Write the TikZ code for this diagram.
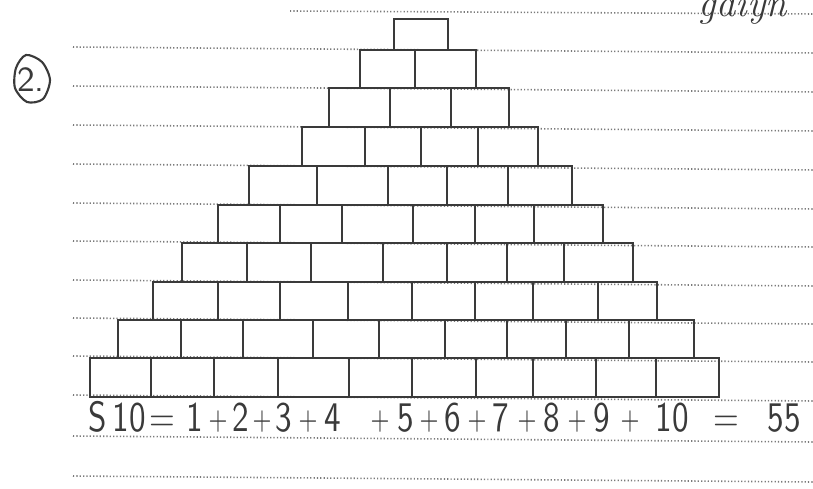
\documentclass[tikz,border=0pt]{standalone}
\usepackage{tikz}
\usetikzlibrary{positioning}
\definecolor{Lapiz}{HTML}{3A3A3A}
\definecolor{Renglon}{HTML}{7A7A7A}

\begin{document}
\begin{tikzpicture}[
  x=0.01cm, y=-0.01cm,
  every node/.style={font=\sffamily},
  brick/.style={line width=0.5pt,draw=Lapiz},
  renglon/.style={line width=0.45pt,Renglon,dash pattern=on 0.35pt off 0.6pt},
  hand/.style={text=Lapiz,font=\sffamily\fontsize{12}{14}\selectfont,inner sep=0pt},
  mas/.style={hand,font=\sffamily\fontsize{9}{11}\selectfont}
]
  \useasboundingbox (0,0) rectangle (813,489);
  \fill[white] (0,0) rectangle (813,489);

  % ruled lines of the page
  \draw[renglon] (290,11) -- (813,14);
  \foreach \y in {49,88,127,166,205,243,282,320,358,397,438,478}
    \draw[renglon] (73,\y-2) -- (813,\y+4);

  % pyramid, one row at a time
  \draw[brick] (394,19) rectangle (448,50);

  \draw[brick] (360,50) rectangle (476,88);
  \foreach \x in {415} \draw[brick] (\x,50) -- (\x,88);

  \draw[brick] (329,88) rectangle (509,127);
  \foreach \x in {390,451} \draw[brick] (\x,88) -- (\x,127);

  \draw[brick] (302,127) rectangle (538,166);
  \foreach \x in {365,421,478} \draw[brick] (\x,127) -- (\x,166);

  \draw[brick] (249,166) rectangle (572,205);
  \foreach \x in {317,388,447,508} \draw[brick] (\x,166) -- (\x,205);

  \draw[brick] (218,205) rectangle (603,243);
  \foreach \x in {280,342,413,475,534} \draw[brick] (\x,205) -- (\x,243);

  \draw[brick] (182,243) rectangle (633,282);
  \foreach \x in {247,311,383,447,507,564} \draw[brick] (\x,243) -- (\x,282);

  \draw[brick] (153,282) rectangle (657,320);
  \foreach \x in {218,280,348,412,475,533,598} \draw[brick] (\x,282) -- (\x,320);

  \draw[brick] (118,320) rectangle (694,358);
  \foreach \x in {181,243,313,379,445,507,566,629} \draw[brick] (\x,320) -- (\x,358);

  \draw[brick] (90,358) rectangle (719,397);
  \foreach \x in {151,214,278,349,412,476,533,596,656} \draw[brick] (\x,358) -- (\x,397);

  % exercise number
  \draw[Lapiz,line width=0.6pt] plot[smooth cycle] coordinates
    {(26,55) (42,62) (50,80) (43,99) (27,102) (15,88) (16,68)};
  \node[hand,font=\sffamily\fontsize{10}{12}\selectfont] (numero) at (31,80) {2.};

  % name cut at the top edge
  \node[hand,font=\itshape\fontsize{11}{13}\selectfont,anchor=base west] (nombre) at (698,17) {gaiyn};

  % the sum, written by hand
  \foreach \x/\t [count=\i] in {98/S,129/10,162/=,195/1,241/2,284/3,333/4,406/5,
      453/6,501/7,552/8,602/9,672/10,726/=,784/55}
    \node[hand,anchor=base] (t\i) at (\x,432) {\scalebox{0.8}[1]{\t}};
  \foreach \x [count=\i] in {218,262,308,380,429,477,527,577,630}
    \node[mas,anchor=base] (p\i) at (\x,430) {\scalebox{0.75}[1]{+}};
\end{tikzpicture}
\end{document}
